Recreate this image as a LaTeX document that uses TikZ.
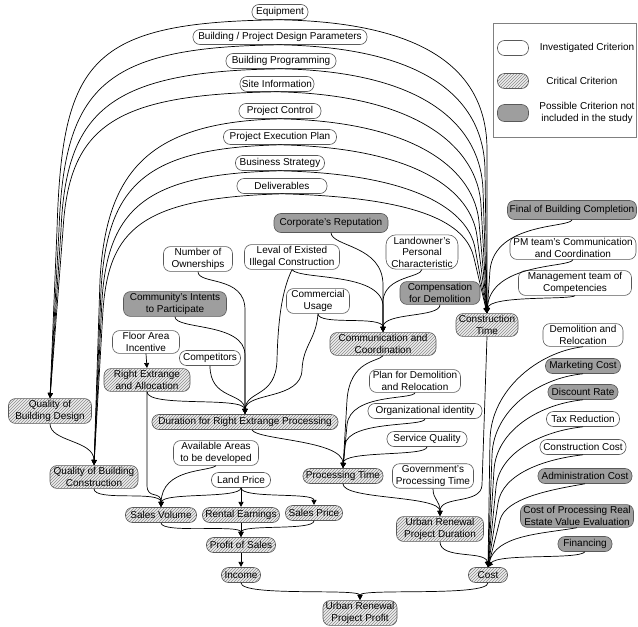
\documentclass[tikz,border=0pt]{standalone}
\usepackage{fontspec}
\setmainfont{Liberation Sans}
\usetikzlibrary{patterns,arrows.meta,calc}
\newcommand\dgfont{\fontsize{10pt}{11.5pt}\selectfont}
\begin{document}
\begin{tikzpicture}[x=1pt,y=-1pt,
  base/.style={draw=black!65, line width=0.6pt, rounded corners=7pt, align=center, font=\dgfont, inner xsep=1pt, inner ysep=2pt, minimum height=15pt},
  inv/.style={base, fill=white},
  crit/.style={base, preaction={fill=gray!14}, pattern=north east lines, pattern color=black!45},
  poss/.style={base, fill=black!38},
  conn/.style={draw, line width=0.7pt, -{Stealth[length=5pt,width=5pt,inset=0pt]}, shorten >=0.3pt},
  lgtext/.style={font=\dgfont, align=center, inner sep=0pt}
]
\fill[white] (0,0) rectangle (638,627);
\useasboundingbox (0,0) rectangle (638,627);

% ---------- nodes ----------
\node[inv, minimum width=56pt] (eq) at (280,12) {Equipment};
\node[inv, minimum width=174pt] (bpd) at (280,37) {Building / Project Design Parameters};
\node[inv, minimum width=110pt] (bp) at (281,61) {Building Programming};
\node[inv, minimum width=74pt] (si) at (277,84) {Site Information};
\node[inv, minimum width=82pt] (pc) at (280,111) {Project Control};
\node[inv, minimum width=113pt] (pep) at (280,137) {Project Execution Plan};
\node[inv, minimum width=89pt] (bs) at (280,163) {Business Strategy};
\node[inv, minimum width=90pt] (del) at (282,186) {Deliverables};
\node[poss, minimum width=114pt, minimum height=19pt] (cr) at (331,223) {Corporate's Reputation};
\node[inv, minimum width=69pt] (no) at (198,259) {Number of\\Ownerships};
\node[inv, minimum width=95pt] (le) at (292,257) {Leval of Existed\\Illegal Construction};
\node[inv, minimum width=72pt, rounded corners=10pt] (lo) at (422,252) {Landowner's\\Personal\\Characteristic};
\node[poss, minimum width=103pt] (ci) at (175,304) {Community's Intents\\to Participate};
\node[inv, minimum width=63pt] (cu) at (318,301) {Commercial\\Usage};
\node[poss, minimum width=80pt] (cd) at (440,293) {Compensation\\for Demolition};
\node[crit, minimum width=106pt] (cc) at (383,344) {Communication and\\Coordination};
\node[inv, minimum width=67pt] (fa) at (146,342) {Floor Area\\Incentive};
\node[inv, minimum width=61pt] (comp) at (210,358) {Competitors};
\node[crit, minimum width=86pt] (re) at (147,380) {Right Extrange\\and Allocation};
\node[crit, minimum width=83pt] (qbd) at (50,411) {Quality of\\Building Design};
\node[crit, minimum width=186pt] (drep) at (245,422) {Duration for Right Extrange Processing};
\node[inv, minimum width=91pt] (pdr) at (415,381) {Plan for Demolition\\and Relocation};
\node[inv, minimum width=114pt] (oi) at (425,411) {Organizational identity};
\node[inv, minimum width=80pt] (sq) at (427,439) {Service Quality};
\node[inv, minimum width=81pt] (gpt) at (433,476) {Government's\\Processing Time};
\node[crit, minimum width=80pt] (pt) at (343,476) {Processing Time};
\node[crit, minimum width=87pt] (urpd) at (440,529) {Urban Renewal\\Project Duration};
\node[crit, minimum width=62pt] (ct) at (487,325) {Construction\\Time};
\node[poss, minimum width=129pt, minimum height=19pt] (fbc) at (572,210) {Final of Building Completion};
\node[inv, minimum width=126pt] (pm) at (573,248) {PM team's Communication\\and Coordination};
\node[inv, minimum width=113pt] (mt) at (575,283) {Management team of\\Competencies};
\node[inv, minimum width=80pt] (dr) at (583,335) {Demolition and\\Relocation};
\node[poss, minimum width=75pt] (mc) at (583,366) {Marketing Cost};
\node[poss, minimum width=70pt] (dsr) at (583,392) {Discount Rate};
\node[inv, minimum width=73pt] (tr) at (583,419) {Tax Reduction};
\node[inv, minimum width=86pt] (ccst) at (583,447) {Construction Cost};
\node[poss, minimum width=94pt] (ac) at (585,476) {Administration Cost};
\node[poss, minimum width=113pt] (cpr) at (577,516) {Cost of Processing Real\\Estate Value Evaluation};
\node[poss, minimum width=54pt] (fin) at (585,544) {Financing};
\node[crit, minimum width=39pt] (cost) at (488,575) {Cost};
\node[crit, minimum width=74pt] (urpp) at (360,613) {Urban Renewal\\Project Profit};
\node[crit, minimum width=88pt] (qbc) at (94,477) {Quality of Building\\Construction};
\node[inv, minimum width=85pt] (aa) at (216,453) {Available Areas\\to be developed};
\node[inv, minimum width=59pt] (lp) at (241,480) {Land Price};
\node[crit, minimum width=71pt] (sv) at (161,515) {Sales Volume};
\node[crit, minimum width=77pt] (rent) at (241,515) {Rental Earnings};
\node[crit, minimum width=57pt] (sp) at (314,513) {Sales Price};
\node[crit, minimum width=69pt] (ps) at (241,545) {Profit of Sales};
\node[crit, minimum width=39pt] (inc) at (241,575) {Income};

% ---------- legend ----------
\draw[black!50, line width=0.6pt] (493,23) rectangle (636,137);
\node[inv, minimum width=31pt, minimum height=15pt] (lg1) at (513,48) {};
\node[crit, minimum width=31pt, minimum height=15pt] (lg2) at (513,81) {};
\node[poss, minimum width=31pt, minimum height=17pt] (lg3) at (513,113) {};
\node[lgtext] (lt1) at (587,48) {Investigated Criterion};
\node[lgtext] (lt2) at (582,81) {Critical Criterion};
\node[lgtext] (lt3) at (587,113) {Possible Criterion not\\included in the study};

% ---------- top group, left branches ----------
\draw[conn] (eq.south) .. controls (90,22) and (62,60) .. (57,230) -- (qbd.north);
\draw[conn] (bpd.south) .. controls (105,47) and (64,85) .. (59,230) -- (qbd.north);
\draw[conn] (bp.south) .. controls (110,71) and (66,110) .. (61,230) -- (qbd.north);
\draw[conn] (si.south) .. controls (115,94) and (69,125) .. (63,230) -- (qbd.north);
\draw[conn] (pc.south) .. controls (150,122) and (106,170) .. (100,280) -- (qbc.north);
\draw[conn] (pep.south) .. controls (145,148) and (107,185) .. (101,290) -- (qbc.north);
\draw[conn] (bs.south) .. controls (150,174) and (108,205) .. (102,300) -- (qbc.north);
\draw[conn] (del.south) .. controls (140,198) and (109,230) .. (103,310) -- (qbc.north);

% ---------- top group, right branches ----------
\draw[conn] (eq.south) .. controls +(160,3) and ($(487,150)!-70pt!(ct.north)$) .. (487,150) -- (ct.north);
\draw[conn] (bpd.south) .. controls +(155,3) and ($(485,170)!-65pt!(ct.north)$) .. (485,170) -- (ct.north);
\draw[conn] (bp.south) .. controls +(150,3) and ($(483,190)!-60pt!(ct.north)$) .. (483,190) -- (ct.north);
\draw[conn] (si.south) .. controls +(145,3) and ($(481,205)!-55pt!(ct.north)$) .. (481,205) -- (ct.north);
\draw[conn] (pc.south) .. controls +(140,3) and ($(479,222)!-50pt!(ct.north)$) .. (479,222) -- (ct.north);
\draw[conn] (pep.south) .. controls +(138,3) and ($(477,236)!-45pt!(ct.north)$) .. (477,236) -- (ct.north);
\draw[conn] (bs.south) .. controls +(136,3) and ($(475,248)!-38pt!(ct.north)$) .. (475,248) -- (ct.north);
\draw[conn] (del.south) .. controls +(152,4) and ($(474,258)!-30pt!(ct.north)$) .. (474,258) -- (ct.north);

% ---------- into Construction Time from right ----------
\draw[conn] (fbc.south) .. controls (570,228) and (495,222) .. (490,270) -- (ct.north);
\draw[conn] (pm.south) .. controls (570,268) and (490,262) .. (ct.north);
\draw[conn] (mt.south) .. controls (570,300) and (489,295) .. (ct.north);

% ---------- into Duration for Right Extrange Processing ----------
\draw[conn] (no.south) .. controls (198,285) and (245,275) .. (245,310) -- (drep.north);
\draw[conn] (ci.south) .. controls (175,330) and (245,322) .. (245,355) -- (drep.north);
\draw[conn] (le.south) .. controls (282,290) and (278,320) .. (277,360) .. controls (276,398) and (246,390) .. (drep.north);
\draw[conn] (cu.south) .. controls (316,340) and (303,345) .. (302,370) .. controls (301,400) and (246,392) .. (drep.north);
\draw[conn] (comp.south) .. controls (210,400) and (244,392) .. (drep.north);
\draw[conn] (re.south) .. controls (147,408) and (244,396) .. (drep.north);
\draw[conn] (fa.south) -- (re.north);

% ---------- into Communication and Coordination ----------
\draw[conn] (cr.south) .. controls (332,247) and (383,245) .. (383,285) -- (cc.north);
\draw[conn] (le.south) .. controls (300,280) and (380,272) .. (383,305) -- (cc.north);
\draw[conn] (lo.south) .. controls (420,278) and (386,276) .. (383,300) -- (cc.north);
\draw[conn] (cd.south) .. controls (440,318) and (383,312) .. (cc.north);
\draw[conn] (cu.south) .. controls (318,326) and (383,315) .. (cc.north);

% ---------- into Processing Time ----------
\draw[conn] (cc.south) .. controls (378,362) and (350,360) .. (347,400) -- (pt.north);
\draw[conn] ([xshift=7pt]drep.south) .. controls (256,440) and (343,440) .. (pt.north);
\draw[conn] (pdr.south) .. controls (413,400) and (350,393) .. (347,425) -- (pt.north);
\draw[conn] (oi.south) .. controls (425,427) and (348,420) .. (345,445) -- (pt.north);
\draw[conn] (sq.south) .. controls (427,457) and (343,450) .. (pt.north);

% ---------- into Urban Renewal Project Duration ----------
\draw[conn] (pt.south) .. controls (343,500) and (440,495) .. (urpd.north);
\draw[conn] (gpt.south) .. controls (433,500) and (440,500) .. (urpd.north);
\draw[conn] (ct.south) -- (482,485) .. controls (481,505) and (440,495) .. (urpd.north);

% ---------- into Cost ----------
\draw[conn] (urpd.south) .. controls (440,560) and (486,550) .. (cost.north);
\draw[conn] (dr.south) .. controls (538,352) and ($(490,440)!-50pt!(cost.north)$) .. (490,440) -- (cost.north);
\draw[conn] (mc.south) .. controls (538,378) and ($(492,455)!-45pt!(cost.north)$) .. (492,455) -- (cost.north);
\draw[conn] (dsr.south) .. controls (540,404) and ($(494,470)!-40pt!(cost.north)$) .. (494,470) -- (cost.north);
\draw[conn] (tr.south) .. controls (542,431) and ($(496,487)!-35pt!(cost.north)$) .. (496,487) -- (cost.north);
\draw[conn] (ccst.south) .. controls (545,459) and ($(498,503)!-30pt!(cost.north)$) .. (498,503) -- (cost.north);
\draw[conn] (ac.south) .. controls (548,490) and ($(500,520)!-22pt!(cost.north)$) .. (500,520) -- (cost.north);
\draw[conn] (cpr.south) .. controls (540,534) and (496,535) .. (cost.north);
\draw[conn] (fin.south) .. controls (578,560) and (498,553) .. (cost.north);

% ---------- lower left ----------
\draw[conn] (qbd.south) .. controls (50,442) and (94,440) .. (qbc.north);
\draw[conn] (re.south) -- (147,485) .. controls (147,500) and (161,490) .. (sv.north);
\draw[conn] (qbc.south) .. controls (94,502) and (161,490) .. (sv.north);
\draw[conn] (aa.south) .. controls (208,472) and (162,468) .. (sv.north);
\draw[conn] (lp.south) .. controls (241,499) and (162,492) .. (sv.north);
\draw[conn] (lp.south) -- (rent.north);
\draw[conn] (lp.south) .. controls (241,499) and (314,492) .. (sp.north);
\draw[conn] (sv.south) .. controls (161,534) and (241,524) .. (ps.north);
\draw[conn] (rent.south) -- (ps.north);
\draw[conn] (sp.south) .. controls (314,531) and (241,524) .. (ps.north);
\draw[conn] (ps.south) -- (inc.north);
\draw[conn] (inc.south) .. controls (241,597) and (360,588) .. (urpp.north);
\draw[conn] (cost.south) .. controls (488,597) and (360,588) .. (urpp.north);
\end{tikzpicture}
\end{document}
